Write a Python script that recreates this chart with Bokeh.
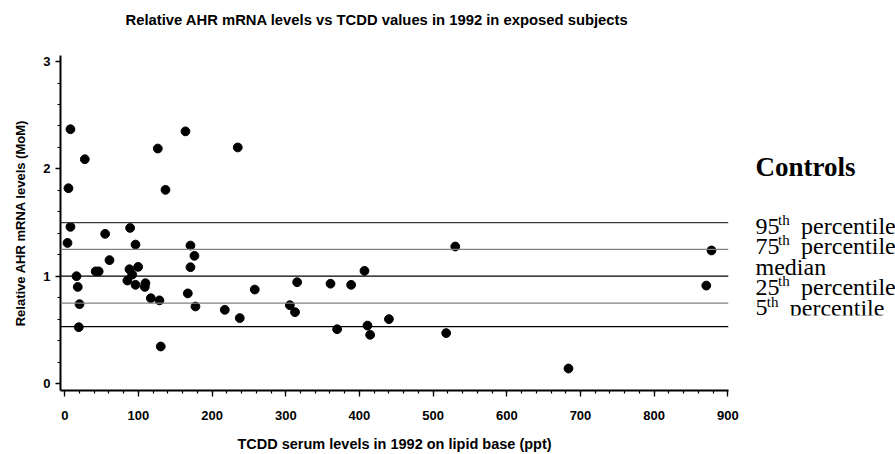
from bokeh.plotting import figure
from bokeh.layouts import row
from bokeh.models import Span, Label, SingleIntervalTicker, Range1d, ColumnDataSource
from bokeh.embed import file_html
from bokeh.resources import INLINE

# ---- data ----
tcdd = [3.7, 5.0, 7.7, 7.7, 15.9, 17.6, 20.0, 19.0, 27.2, 42.0, 46.0, 54.8, 60.7,
        85.0, 87.8, 88.7, 91.5, 96.0, 96.0, 99.6, 108.6, 109.5, 116.8, 126.3,
        128.5, 130.3, 136.7, 163.8, 167.0, 170.6, 170.6, 176.0, 177.4, 217.2,
        234.8, 237.5, 257.9, 305.5, 312.5, 315.4, 360.7, 369.7, 388.7, 406.8,
        410.9, 414.5, 440.0, 517.7, 530.0, 683.7, 870.7, 877.8]
ahr = [1.31, 1.82, 2.37, 1.46, 1.00, 0.90, 0.74, 0.525, 2.09, 1.045, 1.045, 1.395,
       1.15, 0.96, 1.065, 1.45, 1.015, 1.295, 0.92, 1.087, 0.90, 0.935, 0.795,
       2.19, 0.775, 0.345, 1.805, 2.35, 0.84, 1.286, 1.084, 1.19, 0.718, 0.687,
       2.20, 0.61, 0.876, 0.73, 0.665, 0.944, 0.93, 0.506, 0.92, 1.05, 0.54,
       0.454, 0.60, 0.47, 1.277, 0.14, 0.913, 1.24]

pct_values = [1.5, 1.25, 1.0, 0.75, 0.53]
pct_colors = ["#3a3a3a", "#808080", "#000000", "#808080", "#000000"]
legend_nums = ["95", "75", "", "25", "5"]
legend_sups = ["th", "th", "", "th", "th"]
legend_words = ["percentile", "percentile", "median", "percentile", "percentile"]

title_text = "Relative AHR mRNA levels vs TCDD values in 1992 in exposed subjects"
x_title = "TCDD serum levels in 1992 on lipid base (ppt)"
y_title = "Relative AHR mRNA levels (MoM)"
legend_title = "Controls"

# ---- layout (pixel positions in the 895x454 picture) ----
W, H = 740, 454
FL, FR, FT, FB = 60, 728, 55, 390
X0, X1 = -5.8, 900.9
Y0, Y1 = -0.065, 3.057

p = figure(width=W, height=H, output_backend="svg", toolbar_location=None,
           x_range=Range1d(X0, X1), y_range=Range1d(Y0, Y1),
           min_border_left=FL, min_border_right=W - FR,
           min_border_top=FT, min_border_bottom=H - FB)
p.outline_line_color = None
p.xgrid.visible = False
p.ygrid.visible = False

# trailing newline keeps the title high above the frame
p.title.text = title_text + "\n"
p.title.align = "left"
p.title.offset = 65
p.title.vertical_align = "bottom"
p.title.text_font = "Liberation Sans"
p.title.text_font_style = "bold"
p.title.text_font_size = "14.8px"
p.title.text_line_height = 1.3
p.title.text_color = "black"
p.title.standoff = 14

for ax in (p.xaxis[0], p.yaxis[0]):
    ax.axis_line_width = 2
    ax.axis_line_color = "black"
    ax.major_tick_in = 0
    ax.minor_tick_in = 0
    ax.major_tick_line_color = "black"
    ax.minor_tick_line_color = "black"
    ax.major_tick_line_width = 1.3
    ax.minor_tick_line_width = 1.2
    ax.major_label_text_font = "Liberation Sans"
    ax.major_label_text_font_style = "bold"
    ax.major_label_text_font_size = "13px"
    ax.major_label_text_color = "black"
    ax.axis_label_text_font = "Liberation Sans"
    ax.axis_label_text_font_style = "bold"
    ax.axis_label_text_color = "black"

p.xaxis.ticker = SingleIntervalTicker(interval=100, num_minor_ticks=5)
p.yaxis.ticker = SingleIntervalTicker(interval=1, num_minor_ticks=5)
p.xaxis.major_tick_out = 6
p.xaxis.minor_tick_out = 3
p.xaxis.major_label_standoff = 14
p.xaxis.axis_label = x_title
p.xaxis.axis_label_text_font_size = "14.5px"
p.xaxis.axis_label_standoff = 13

p.yaxis.major_tick_out = 5
p.yaxis.minor_tick_out = 3
p.yaxis.major_label_standoff = 5
p.yaxis.axis_label = y_title
p.yaxis.axis_label_text_font_size = "13px"
p.yaxis.axis_label_standoff = 12

# reference lines (control percentiles)
for v, c in zip(pct_values, pct_colors):
    p.add_layout(Span(location=v, dimension="width", line_color=c, line_width=1.3))

# points
src = ColumnDataSource(dict(x=tcdd, y=ahr))
p.scatter("x", "y", source=src, size=8.8, marker="circle",
          fill_color="black", line_color="black")

# ---- legend text panel on the right (data coordinates ~ picture pixels) ----
LW = 895 - W
q = figure(width=LW, height=H, output_backend="svg", toolbar_location=None,
           x_range=Range1d(W, 895), y_range=Range1d(FB, FT),
           min_border_left=0, min_border_right=0,
           min_border_top=FT, min_border_bottom=H - FB,
           x_axis_type=None, y_axis_type=None)
q.outline_line_color = None
q.xgrid.visible = False
q.ygrid.visible = False

q.add_layout(Label(x=755, y=166, text=legend_title, text_align="left",
                   text_baseline="alphabetic", text_font="Liberation Serif",
                   text_font_style="bold", text_font_size="27px", text_color="black"))
baselines = [225.7, 245.7, 266.3, 286.7, 307.0]
for num, sup, word, b in zip(legend_nums, legend_sups, legend_words, baselines):
    x = 755
    if num:
        q.add_layout(Label(x=x, y=b, text=num, text_align="left",
                           text_baseline="alphabetic", text_font="Liberation Serif",
                           text_font_size="24px", text_color="black"))
        x += 11.3 * len(num)
        q.add_layout(Label(x=x, y=b - 6, text=sup, text_align="left",
                           text_baseline="alphabetic", text_font="Liberation Serif",
                           text_font_size="15px", text_color="black"))
        x += 23
    q.add_layout(Label(x=x, y=b, text=word, text_align="left",
                       text_baseline="alphabetic", text_font="Liberation Serif",
                       text_font_size="24px", text_color="black"))

# the reference's legend image is cut just below the last line
mask = q.quad(left=[W], right=[895], top=[baselines[-1] + 8], bottom=[FB],
              fill_color="white", line_color=None)
mask.level = "overlay"

layout = row(p, q, spacing=0)
open("out.html", "w").write(file_html(layout, INLINE))
